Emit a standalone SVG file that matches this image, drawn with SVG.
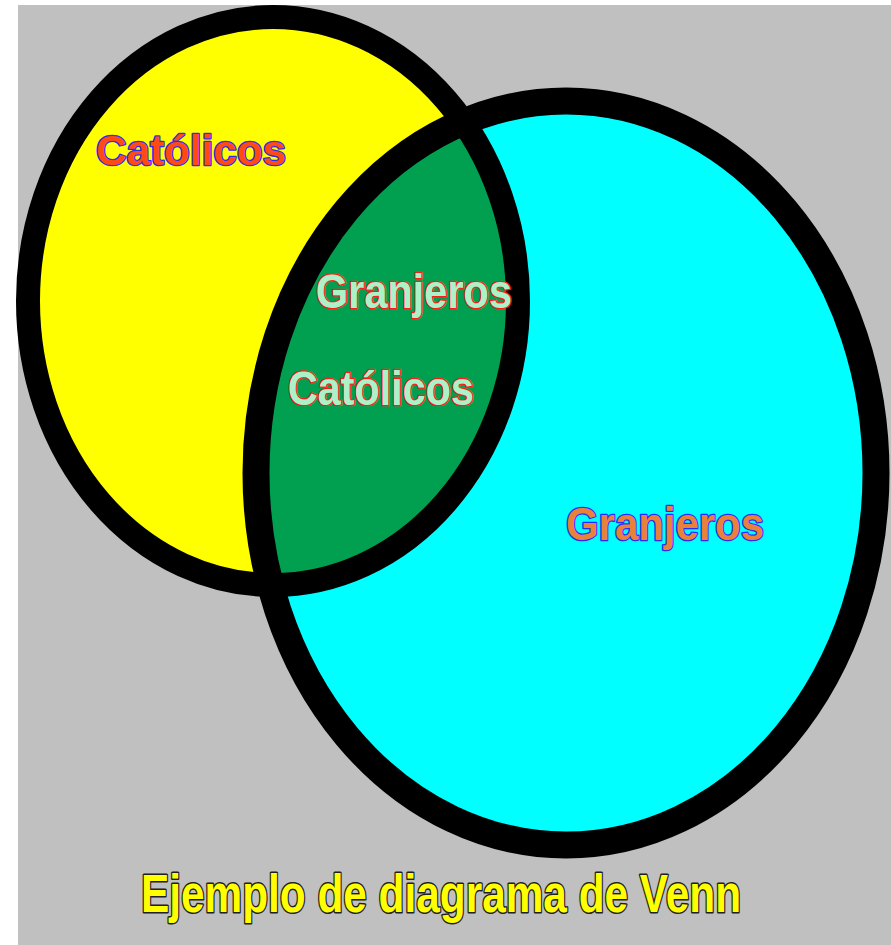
<svg xmlns="http://www.w3.org/2000/svg" width="891" height="945" viewBox="0 0 891 945">
  <style>
    .ring { fill: none; stroke: #000000; }
    .lbl { font-family: "Liberation Sans", Arial, sans-serif; font-weight: bold; paint-order: stroke fill; stroke-linejoin: round; }
    .cat { fill: #ff4a10; stroke: #2a2aff; stroke-width: 2.5; }
    .gra { fill: #e8823a; stroke: #2a2aff; stroke-width: 2.5; }
    .mid { fill: #aaf2c8; stroke: #ff1a1a; stroke-width: 2.5; }
    .title { fill: #ffff00; stroke: #202020; stroke-width: 3; }
  </style>
  <defs>
    <clipPath id="clipLeft">
      <ellipse cx="273" cy="301" rx="245" ry="284"/>
    </clipPath>
  </defs>
  <rect x="0" y="0" width="891" height="945" fill="#ffffff"/>
  <rect x="18" y="5" width="873" height="940" fill="#c0c0c0"/>

  <g id="set-catolicos">
    <ellipse cx="273" cy="301" rx="245" ry="284" fill="#ffff00"/>
  </g>
  <g id="set-granjeros">
    <ellipse cx="566" cy="473" rx="310" ry="372" fill="#00ffff"/>
  </g>
  <g id="intersection">
    <ellipse cx="566" cy="473" rx="310" ry="372" fill="#00a050" clip-path="url(#clipLeft)"/>
  </g>
  <g id="outlines">
    <ellipse class="ring" cx="273" cy="301" rx="245" ry="284" stroke-width="24"/>
    <ellipse class="ring" cx="566" cy="473" rx="310" ry="372" stroke-width="27"/>
  </g>

  <g id="label-catolicos">
    <text class="lbl cat" x="96" y="165" font-size="42" textLength="190" lengthAdjust="spacingAndGlyphs">Católicos</text>
  </g>
  <g id="label-interseccion">
    <text class="lbl mid" x="316" y="308" font-size="48" textLength="196" lengthAdjust="spacingAndGlyphs">Granjeros</text>
    <text class="lbl mid" x="288" y="405" font-size="48" textLength="186" lengthAdjust="spacingAndGlyphs">Católicos</text>
  </g>
  <g id="label-granjeros">
    <text class="lbl gra" x="566" y="540" font-size="46" textLength="198" lengthAdjust="spacingAndGlyphs">Granjeros</text>
  </g>
  <g id="title">
    <text class="lbl title" x="141" y="912" font-size="54" textLength="600" lengthAdjust="spacingAndGlyphs">Ejemplo de diagrama de Venn</text>
  </g>
</svg>
